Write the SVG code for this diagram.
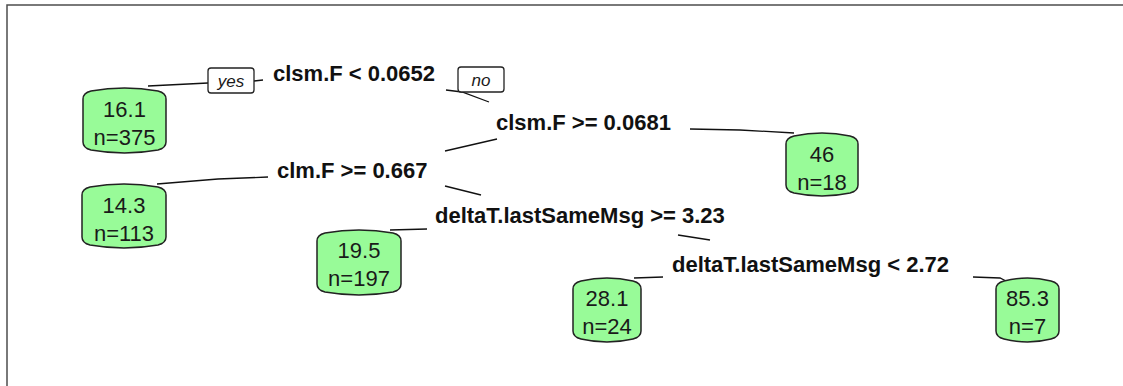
<svg xmlns="http://www.w3.org/2000/svg" width="1123" height="386" viewBox="0 0 1123 386">
  <style>
    .frame { fill: none; stroke: #4d4d4d; stroke-width: 1.5; }
    .leaf path { fill: #98fb98; stroke: #222; stroke-width: 1.5; }
    .leaf text { font-family: "Liberation Sans", Arial, sans-serif; font-size: 22px; fill: #1a1a1a; text-anchor: middle; }
    .split text { font-family: "Liberation Sans", Arial, sans-serif; font-size: 22px; font-weight: bold; fill: #111; }
    .edges path { fill: none; stroke: #111; stroke-width: 1.3; }
    .tag rect { fill: #fff; stroke: #222; stroke-width: 1.3; }
    .tag text { font-family: "Liberation Sans", Arial, sans-serif; font-size: 17px; font-style: italic; fill: #1a1a1a; text-anchor: middle; }
  </style>

  <rect width="1123" height="386" fill="#fff"/>
  <path class="frame" d="M7,386 L7,5 L1123,5"/>

  <!-- connectors -->
  <g id="connectors" class="edges">
    <path d="M148,86 L208,83"/>
    <path d="M254,81 L263,80"/>
    <path d="M446,90 L462,92 L489,102"/>
    <path d="M497,139 L445,151"/>
    <path d="M690,129 L740,130 L794,133"/>
    <path d="M157,184 L218,179 L268,177"/>
    <path d="M445,186 L481,195"/>
    <path d="M390,230 L427,229"/>
    <path d="M678,235 L710,240"/>
    <path d="M663,277 L634,278"/>
    <path d="M973,277 L1000,278 L1006,281"/>
  </g>

  <!-- branch tags -->
  <g id="tag-yes" class="tag">
    <rect x="208" y="68" width="46" height="25" rx="3"/>
    <text x="231" y="87">yes</text>
  </g>
  <g id="tag-no" class="tag">
    <rect x="458" y="67" width="46" height="25" rx="3"/>
    <text x="481" y="86">no</text>
  </g>

  <!-- split nodes -->
  <g id="split-clsm-lt" class="split"><text x="273" y="81">clsm.F &lt; 0.0652</text></g>
  <g id="split-clsm-ge" class="split"><text x="496" y="130">clsm.F &gt;= 0.0681</text></g>
  <g id="split-clm-ge" class="split"><text x="277" y="178">clm.F &gt;= 0.667</text></g>
  <g id="split-delta-ge" class="split"><text x="435" y="223">deltaT.lastSameMsg &gt;= 3.23</text></g>
  <g id="split-delta-lt" class="split"><text x="672" y="272">deltaT.lastSameMsg &lt; 2.72</text></g>

  <!-- leaves -->
  <g id="leaf-16" class="leaf">
    <path d="M83,99 Q83,93 91,91 Q124.5,85 158,91 Q166,93 166,99 L166,142 Q166,148 158,150 Q124.5,156 91,150 Q83,148 83,142 Z"/>
    <text x="124.5" y="117">16.1</text>
    <text x="124.5" y="145">n=375</text>
  </g>
  <g id="leaf-14" class="leaf">
    <path d="M82,195 Q82,189 90,187 Q124,181 158,187 Q166,189 166,195 L166,237 Q166,243 158,245 Q124,251 90,245 Q82,243 82,237 Z"/>
    <text x="124" y="213">14.3</text>
    <text x="124" y="241">n=113</text>
  </g>
  <g id="leaf-19" class="leaf">
    <path d="M317,241 Q317,235 325,233 Q359,227 393,233 Q401,235 401,241 L401,284 Q401,290 393,292 Q359,298 325,292 Q317,290 317,284 Z"/>
    <text x="359" y="258">19.5</text>
    <text x="359" y="286">n=197</text>
  </g>
  <g id="leaf-46" class="leaf">
    <path d="M786,144 Q786,138 794,136 Q822,130 850,136 Q858,138 858,144 L858,185 Q858,191 850,193 Q822,199 794,193 Q786,191 786,185 Z"/>
    <text x="822" y="162">46</text>
    <text x="822" y="190">n=18</text>
  </g>
  <g id="leaf-28" class="leaf">
    <path d="M573,289 Q573,283 581,281 Q607,275 633,281 Q641,283 641,289 L641,331 Q641,337 633,339 Q607,345 581,339 Q573,337 573,331 Z"/>
    <text x="607" y="306">28.1</text>
    <text x="607" y="334">n=24</text>
  </g>
  <g id="leaf-85" class="leaf">
    <path d="M996,289 Q996,283 1004,281 Q1027.5,275 1051,281 Q1059,283 1059,289 L1059,331 Q1059,337 1051,339 Q1027.5,345 1004,339 Q996,337 996,331 Z"/>
    <text x="1027.5" y="306">85.3</text>
    <text x="1027.5" y="334">n=7</text>
  </g>
</svg>
